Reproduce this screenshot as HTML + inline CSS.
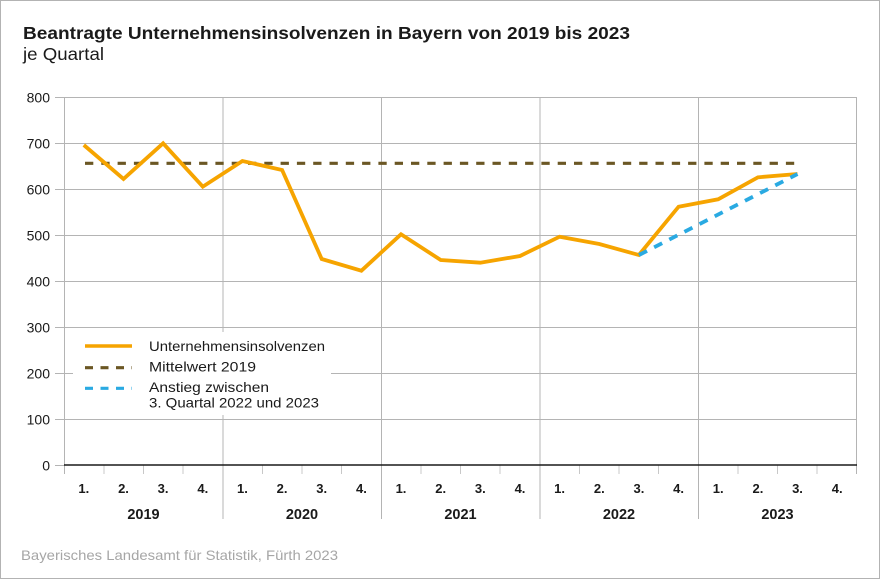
<!DOCTYPE html>
<html><head><meta charset="utf-8">
<style>
html,body{margin:0;padding:0;background:#fff;}
svg{display:block;}
text{font-family:"Liberation Sans",Arial,sans-serif;}
</style></head>
<body>
<svg width="880" height="579" viewBox="0 0 880 579" xmlns="http://www.w3.org/2000/svg">
<rect x="0.5" y="0.5" width="879" height="578" fill="#fff" stroke="#b3b3b3" stroke-width="1"/>
<text x="23" y="39" font-size="17.5" font-weight="bold" fill="#1a1a1a" textLength="607" lengthAdjust="spacingAndGlyphs">Beantragte Unternehmensinsolvenzen in Bayern von 2019 bis 2023</text>
<text x="23" y="60" font-size="17.5" fill="#1a1a1a" textLength="81" lengthAdjust="spacingAndGlyphs">je Quartal</text>

<!-- horizontal gridlines -->
<g stroke="#b4b4b4" stroke-width="1">
<line x1="55" y1="97.5" x2="857" y2="97.5"/>
<line x1="55" y1="143.5" x2="857" y2="143.5"/>
<line x1="55" y1="189.5" x2="857" y2="189.5"/>
<line x1="55" y1="235.5" x2="857" y2="235.5"/>
<line x1="55" y1="281.5" x2="857" y2="281.5"/>
<line x1="55" y1="327.5" x2="857" y2="327.5"/>
<line x1="55" y1="373.5" x2="857" y2="373.5"/>
<line x1="55" y1="419.5" x2="857" y2="419.5"/>
<line x1="55" y1="465.5" x2="64" y2="465.5"/>
<!-- vertical lines -->
<line x1="64.5" y1="97" x2="64.5" y2="474"/>
<line x1="223" y1="97" x2="223" y2="519"/>
<line x1="381.5" y1="97" x2="381.5" y2="519"/>
<line x1="540" y1="97" x2="540" y2="519"/>
<line x1="698.5" y1="97" x2="698.5" y2="519"/>
<line x1="856.5" y1="97" x2="856.5" y2="474"/>
</g>
<!-- quarter ticks -->
<g stroke="#c8c8c8" stroke-width="1">
<line x1="104" y1="465" x2="104" y2="474"/><line x1="143.5" y1="465" x2="143.5" y2="474"/><line x1="183" y1="465" x2="183" y2="474"/>
<line x1="262.5" y1="465" x2="262.5" y2="474"/><line x1="302" y1="465" x2="302" y2="474"/><line x1="341.5" y1="465" x2="341.5" y2="474"/>
<line x1="421" y1="465" x2="421" y2="474"/><line x1="460.5" y1="465" x2="460.5" y2="474"/><line x1="500" y1="465" x2="500" y2="474"/>
<line x1="579.5" y1="465" x2="579.5" y2="474"/><line x1="619" y1="465" x2="619" y2="474"/><line x1="658.5" y1="465" x2="658.5" y2="474"/>
<line x1="738" y1="465" x2="738" y2="474"/><line x1="777.5" y1="465" x2="777.5" y2="474"/><line x1="817" y1="465" x2="817" y2="474"/>
</g>

<!-- legend background -->
<rect x="73" y="332" width="258" height="83" fill="#fff"/>

<!-- axis -->
<line x1="64" y1="465" x2="857" y2="465" stroke="#1a1a1a" stroke-width="1.6"/>

<!-- y labels -->
<g font-size="14" fill="#1a1a1a" text-anchor="end">
<text x="50" y="102.5">800</text>
<text x="50" y="148.5">700</text>
<text x="50" y="194.5">600</text>
<text x="50" y="240.5">500</text>
<text x="50" y="286.5">400</text>
<text x="50" y="332.5">300</text>
<text x="50" y="378.5">200</text>
<text x="50" y="424.5">100</text>
<text x="50" y="470.5">0</text>
</g>

<!-- x labels -->
<g font-size="13" font-weight="bold" fill="#1a1a1a" text-anchor="middle">
<text x="83.8" y="493">1.</text><text x="123.5" y="493">2.</text><text x="163.1" y="493">3.</text><text x="202.8" y="493">4.</text>
<text x="242.4" y="493">1.</text><text x="282.1" y="493">2.</text><text x="321.7" y="493">3.</text><text x="361.4" y="493">4.</text>
<text x="401" y="493">1.</text><text x="440.7" y="493">2.</text><text x="480.3" y="493">3.</text><text x="520" y="493">4.</text>
<text x="559.6" y="493">1.</text><text x="599.3" y="493">2.</text><text x="638.9" y="493">3.</text><text x="678.6" y="493">4.</text>
<text x="718.2" y="493">1.</text><text x="757.9" y="493">2.</text><text x="797.5" y="493">3.</text><text x="837.2" y="493">4.</text>
</g>
<g font-size="14.5" font-weight="bold" fill="#1a1a1a" text-anchor="middle">
<text x="143.5" y="519">2019</text>
<text x="302" y="519">2020</text>
<text x="460.5" y="519">2021</text>
<text x="619" y="519">2022</text>
<text x="777.5" y="519">2023</text>
</g>

<!-- Mittelwert -->
<line x1="85" y1="163.3" x2="795" y2="163.3" stroke="#6b5724" stroke-width="3.2" stroke-dasharray="8.3 8"/>

<!-- main series -->
<polyline fill="none" stroke="#f6a400" stroke-width="3.8" stroke-linejoin="miter"
points="83.8,145 123.5,179 163.1,143.3 202.8,186.7 242.4,161 282.1,170 321.7,259 361.4,270.7 401,234.3 440.7,260 480.3,262.7 520,256 559.6,236.7 599.3,244 638.9,255 678.6,206.7 718.2,199.3 757.9,177.3 797.5,174"/>

<!-- blue trend -->
<line x1="639" y1="255" x2="797.5" y2="174" stroke="#2aaae2" stroke-width="3.8" stroke-dasharray="9 8"/>

<!-- legend -->
<line x1="85" y1="346" x2="132" y2="346" stroke="#f6a400" stroke-width="3.5"/>
<line x1="85" y1="367.7" x2="132" y2="367.7" stroke="#6b5724" stroke-width="3.2" stroke-dasharray="8 7.5"/>
<line x1="85" y1="388.3" x2="132" y2="388.3" stroke="#2aaae2" stroke-width="3.2" stroke-dasharray="8 7.5"/>
<g font-size="14" fill="#1a1a1a">
<text x="149" y="351" textLength="176" lengthAdjust="spacingAndGlyphs">Unternehmensinsolvenzen</text>
<text x="149" y="371.5" textLength="107" lengthAdjust="spacingAndGlyphs">Mittelwert 2019</text>
<text x="149" y="392" textLength="120" lengthAdjust="spacingAndGlyphs">Anstieg zwischen</text>
<text x="149" y="407.5" textLength="170" lengthAdjust="spacingAndGlyphs">3. Quartal 2022 und 2023</text>
</g>

<!-- footer -->
<text x="21" y="560" font-size="14" fill="#a6a6a6" textLength="317" lengthAdjust="spacingAndGlyphs">Bayerisches Landesamt für Statistik, Fürth 2023</text>
</svg>
</body></html>
